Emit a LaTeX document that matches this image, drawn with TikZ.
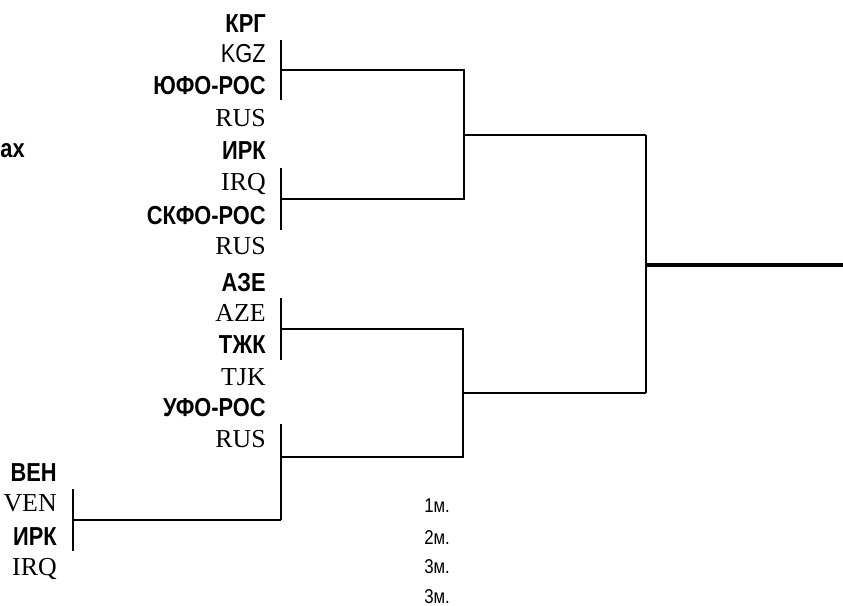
\documentclass[tikz,border=0pt]{standalone}
\usepackage{fontspec}
\setmainfont{Liberation Serif}
\newfontfamily\narrow[FakeStretch=0.84]{Liberation Sans}
\begin{document}
\begin{tikzpicture}[x=0.75pt,y=-0.75pt,
  code/.style={anchor=base east, inner sep=0pt, font=\fontsize{19.4}{21}\selectfont},
  team/.style={anchor=base east, inner sep=0pt, font=\narrow\bfseries\fontsize{19.5}{21}\selectfont},
  sanscode/.style={anchor=base east, inner sep=0pt, font=\narrow\fontsize{19.5}{21}\selectfont},
  place/.style={anchor=base west, inner sep=0pt, font=\narrow\fontsize{15}{16}\selectfont},
  thin/.style={line width=1.3pt},
  thick line/.style={line width=3pt}]
\useasboundingbox (0,0) rectangle (843,606);

% heading fragment
\node[team] (hdr) at (25,158) {ах};

% top half labels
\node[team] (t1) at (266,33) {КРГ};
\node[sanscode] (c1) at (266,62.3) {KGZ};
\node[team] (t2) at (266,95) {ЮФО-РОС};
\node[code] (c2) at (266,126.7) {RUS};
\node[team] (t3) at (266,159.3) {ИРК};
\node[code] (c3) at (266,191) {IRQ};
\node[team] (t4) at (266,224) {СКФО-РОС};
\node[code] (c4) at (266,254.5) {RUS};
\node[team] (t5) at (266,291.7) {АЗЕ};
\node[code] (c5) at (266,321.7) {AZE};
\node[team] (t6) at (266,353) {ТЖК};
\node[code] (c6) at (266,385) {TJK};
\node[team] (t7) at (266,416.7) {УФО-РОС};
\node[code] (c7) at (266,447) {RUS};
% bottom left pair
\node[team] (t8) at (57,481.7) {ВЕН};
\node[code] (c8) at (57,511.7) {VEN};
\node[team] (t9) at (57,545) {ИРК};
\node[code] (c9) at (57,575) {IRQ};

% places
\node[place] (p1) at (424,512) {1м.};
\node[place] (p2) at (424,544) {2м.};
\node[place] (p3) at (424,573.5) {3м.};
\node[place] (p4) at (424,603) {3м.};

% bracket coordinates
\coordinate (aT) at (281,40);   \coordinate (aB) at (281,100);  \coordinate (aM) at (281,70);
\coordinate (bT) at (281,168);  \coordinate (bB) at (281,230);  \coordinate (bM) at (281,199);
\coordinate (cT) at (281,298);  \coordinate (cB) at (281,360);  \coordinate (cM) at (281,329);
\coordinate (dT) at (281,424);  \coordinate (dB) at (281,520);  \coordinate (dM) at (281,457);
\coordinate (eT) at (73,489);   \coordinate (eB) at (73,551);   \coordinate (eM) at (73,520);
\coordinate (r1a) at (464,70);  \coordinate (r1b) at (464,199); \coordinate (r1m) at (464,135);
\coordinate (r2a) at (463,329); \coordinate (r2b) at (463,457); \coordinate (r2m) at (463,393);
\coordinate (fA) at (646,135);  \coordinate (fB) at (646,393);  \coordinate (fM) at (646,265);
\coordinate (win) at (843,265);

\draw[thin] (aT) -- (aB);
\draw[thin] (bT) -- (bB);
\draw[thin] (cT) -- (cB);
\draw[thin] (dT) -- (dB);
\draw[thin] (eT) -- (eB);
\draw[thin] (aM) -- (r1a) -- (r1b) -- (bM);
\draw[thin] (r1m) -- (fA);
\draw[thin] (cM) -- (r2a) -- (r2b) -- (dM);
\draw[thin] (eM) -- (dB);
\draw[thin] (r2m) -- (fB);
\draw[thin] (fA) -- (fB);
\draw[thick line] (fM) -- (win);
\end{tikzpicture}
\end{document}
